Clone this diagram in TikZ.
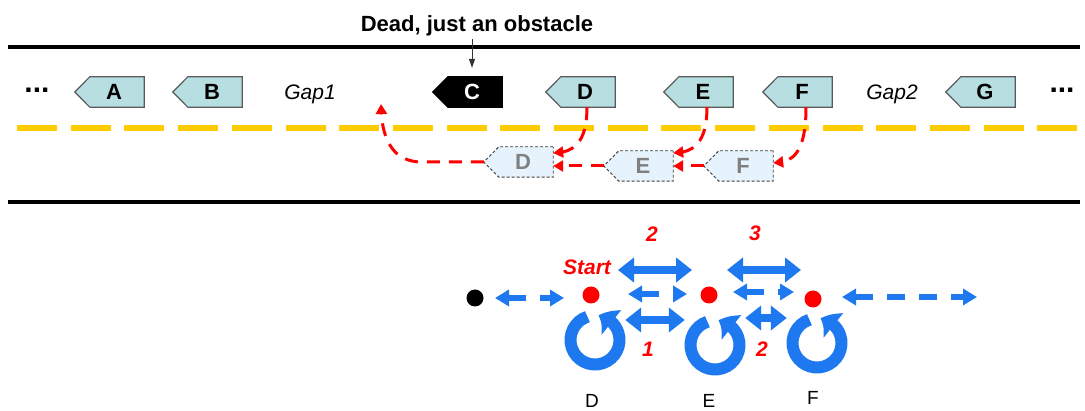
\documentclass[tikz,border=0pt]{standalone}
\usepackage{fontspec}
\setmainfont{Liberation Sans}
\usetikzlibrary{arrows.meta,bending}
\pgfdeclarelayer{background}
\pgfsetlayers{background,main}

\definecolor{carfill}{RGB}{183,222,224}
\definecolor{carline}{RGB}{90,90,90}
\definecolor{ghostfill}{RGB}{230,243,252}
\definecolor{ghostline}{RGB}{60,60,60}
\definecolor{ghosttext}{RGB}{128,128,128}
\definecolor{lane}{RGB}{255,204,0}
\definecolor{myblue}{RGB}{30,120,240}
\definecolor{myred}{RGB}{255,0,0}

\newcommand\carshape[2]{\path[#2] (#1.north east) -- ([xshift=6pt]#1.north west) -- ([xshift=-9pt]#1.west) -- ([xshift=6pt]#1.south west) -- (#1.south east) -- cycle;}

\tikzset{
  carnode/.style={rectangle, minimum width=60pt, minimum height=30pt, inner sep=0pt,
    font=\bfseries\fontsize{22pt}{24pt}\selectfont},
  ghostnode/.style={carnode, text=ghosttext},
  deadnode/.style={carnode, text=white},
  carbody/.style={draw=carline, line width=1.2pt, fill=carfill},
  ghostbody/.style={draw=ghostline, line width=0.9pt, dash pattern=on 3pt off 2pt, fill=ghostfill},
  deadbody/.style={draw=black, line width=1.2pt, fill=black},
  road/.style={line width=4.5pt, black},
  laneline/.style={line width=6pt, lane, dash pattern=on 40pt off 13.7pt},
  redpath/.style={myred, line width=3pt, dash pattern=on 13pt off 9pt, -{Triangle[width=11pt,length=10pt]}},
  obsarrow/.style={line width=1pt, black!80, -{Triangle[width=6pt,length=9pt]}},
  toptext/.style={font=\bfseries\fontsize{22pt}{26pt}\selectfont, inner sep=0pt},
  gaptext/.style={font=\itshape\fontsize{21pt}{24pt}\selectfont, inner sep=0pt},
  dotstext/.style={font=\bfseries\fontsize{30pt}{32pt}\selectfont, inner sep=0pt},
  blackdot/.style={circle, fill=black, minimum size=17pt, inner sep=0pt},
  reddot/.style={circle, fill=myred, minimum size=17pt, inner sep=0pt},
  ringspot/.style={circle, minimum size=60pt, inner sep=0pt},
  ringarrow/.style={myblue, line width=12pt, -{Triangle[bend, width=30pt, length=15pt]}},
  bigarrow/.style={myblue, line width=8pt, {Triangle[width=24pt,length=16pt]}-{Triangle[width=24pt,length=16pt]}},
  smallarrow/.style={myblue, line width=5.5pt, dash pattern=on 18pt off 14pt,
    {Triangle[width=16pt,length=14pt]}-{Triangle[width=16pt,length=14pt]}},
  rednum/.style={myred, font=\bfseries\itshape\fontsize{21pt}{24pt}\selectfont, inner sep=0pt},
  letter/.style={font=\fontsize{19pt}{22pt}\selectfont, inner sep=0pt},
}

\begin{document}
\begin{tikzpicture}[x=1pt, y=-1pt]
\useasboundingbox (0,0) rectangle (1085,411);

% road
\draw[road] (8,47) -- (1080,47);
\draw[road] (8,202) -- (1080,202);
\draw[laneline] (17,128.5) -- (1077,128.5);

% texts on the road
\node[toptext, anchor=base] (dead) at (477,32) {Dead, just an obstacle};
\node[dotstext, anchor=base] (ldots) at (37,93) {...};
\node[dotstext, anchor=base] (rdots) at (1062,93) {...};
\node[gaptext, anchor=base] (gap1) at (310,100) {Gap1};
\node[gaptext, anchor=base] (gap2) at (892,100) {Gap2};

% cars
\node[carnode] (A) at (114,92) {A};
\node[carnode] (B) at (212,92) {B};
\node[deadnode] (C) at (472,92) {C};
\node[carnode] (D) at (585,92) {D};
\node[carnode] (E) at (703,92) {E};
\node[carnode] (F) at (802,92) {F};
\node[carnode] (G) at (985,92) {G};
\node[ghostnode] (gD) at (523,162) {D};
\node[ghostnode] (gE) at (643,166) {E};
\node[ghostnode] (gF) at (743,166) {F};

\begin{pgfonlayer}{background}
\carshape{A}{carbody}
\carshape{B}{carbody}
\carshape{C}{deadbody}
\carshape{D}{carbody}
\carshape{E}{carbody}
\carshape{F}{carbody}
\carshape{G}{carbody}
\carshape{gD}{ghostbody}
\carshape{gE}{ghostbody}
\carshape{gF}{ghostbody}
\end{pgfonlayer}

\draw[obsarrow, shorten <=2pt, shorten >=9pt] (C.north |- dead.south) -- (C.north);

% moves
\coordinate (gapexit) at (381,104);
\draw[redpath] ([xshift=2pt]D.south) .. controls +(0,38) and +(18,0) .. ([yshift=9pt]gD.east);
\draw[redpath] ([xshift=4pt]E.south) .. controls +(0,38) and +(18,0) .. ([yshift=13pt]gE.east);
\draw[redpath] ([xshift=4pt]F.south) .. controls +(0,45) and +(20,0) .. ([yshift=3pt]gF.east);
\draw[redpath] ([xshift=-9pt]gD.west) -- ++(-62,0) .. controls +(-32,0) and +(0,30) .. (gapexit);
\draw[redpath] ([xshift=-9pt]gE.west) -- (gD.east |- gE.west);
\draw[redpath] ([xshift=-9pt]gF.west) -- (gE.east |- gF.west);

% lower diagram
\node[blackdot] (bdot) at (475,298) {};
\node[reddot] (dotD) at (591,295) {};
\node[reddot] (dotE) at (709,295) {};
\node[reddot] (dotF) at (813,299) {};
\node[ringspot] (ringD) at (595,340) {};
\node[ringspot] (ringE) at (715,345) {};
\node[ringspot] (ringF) at (817,343) {};
\coordinate (rightend) at (977,297);

\draw[ringarrow] (ringD.center) ++(-108:24.5) arc[start angle=-108, end angle=-442, radius=24.5];
\draw[ringarrow] (ringE.center) ++(-108:24.5) arc[start angle=-108, end angle=-442, radius=24.5];
\draw[ringarrow] (ringF.center) ++(-108:24.5) arc[start angle=-108, end angle=-442, radius=24.5];

\draw[bigarrow, shorten <=27pt, shorten >=17pt] ([yshift=25pt]dotD.center) -- ([yshift=25pt]dotE.center);
\draw[bigarrow, shorten <=18pt, shorten >=12pt] ([yshift=25pt]dotE.center) -- ([yshift=29pt]dotF.center);
\draw[smallarrow, shorten <=37pt, shorten >=22pt] ([yshift=1pt]dotD.center) -- ([yshift=1pt]dotE.center);
\draw[smallarrow, shorten <=24pt, shorten >=19pt] ([yshift=3pt]dotE.center) -- ([yshift=3pt]dotE.center -| dotF.center);
\draw[bigarrow] ([yshift=20pt]ringD.east) -- ([yshift=25pt]ringE.west);
\draw[bigarrow] ([yshift=27pt]ringE.east) -- ([yshift=25pt]ringF.west);
\draw[smallarrow, shorten <=20pt, shorten >=27pt] (bdot.center) -- (bdot.center -| dotD.center);
\draw[smallarrow, shorten <=29pt] (dotF.center |- rightend) -- (rightend);

\node[rednum, anchor=base] (start) at (587,275) {Start};
\node[rednum, anchor=base] (n2a) at (652,242) {2};
\node[rednum, anchor=base] (n3) at (755,241) {3};
\node[rednum, anchor=base] (n1) at (648,357) {1};
\node[rednum, anchor=base] (n2b) at (762,357) {2};
\node[letter, anchor=base] (labD) at (592,408) {D};
\node[letter, anchor=base] (labE) at (709,408) {E};
\node[letter, anchor=base] (labF) at (813,405) {F};
\end{tikzpicture}
\end{document}
